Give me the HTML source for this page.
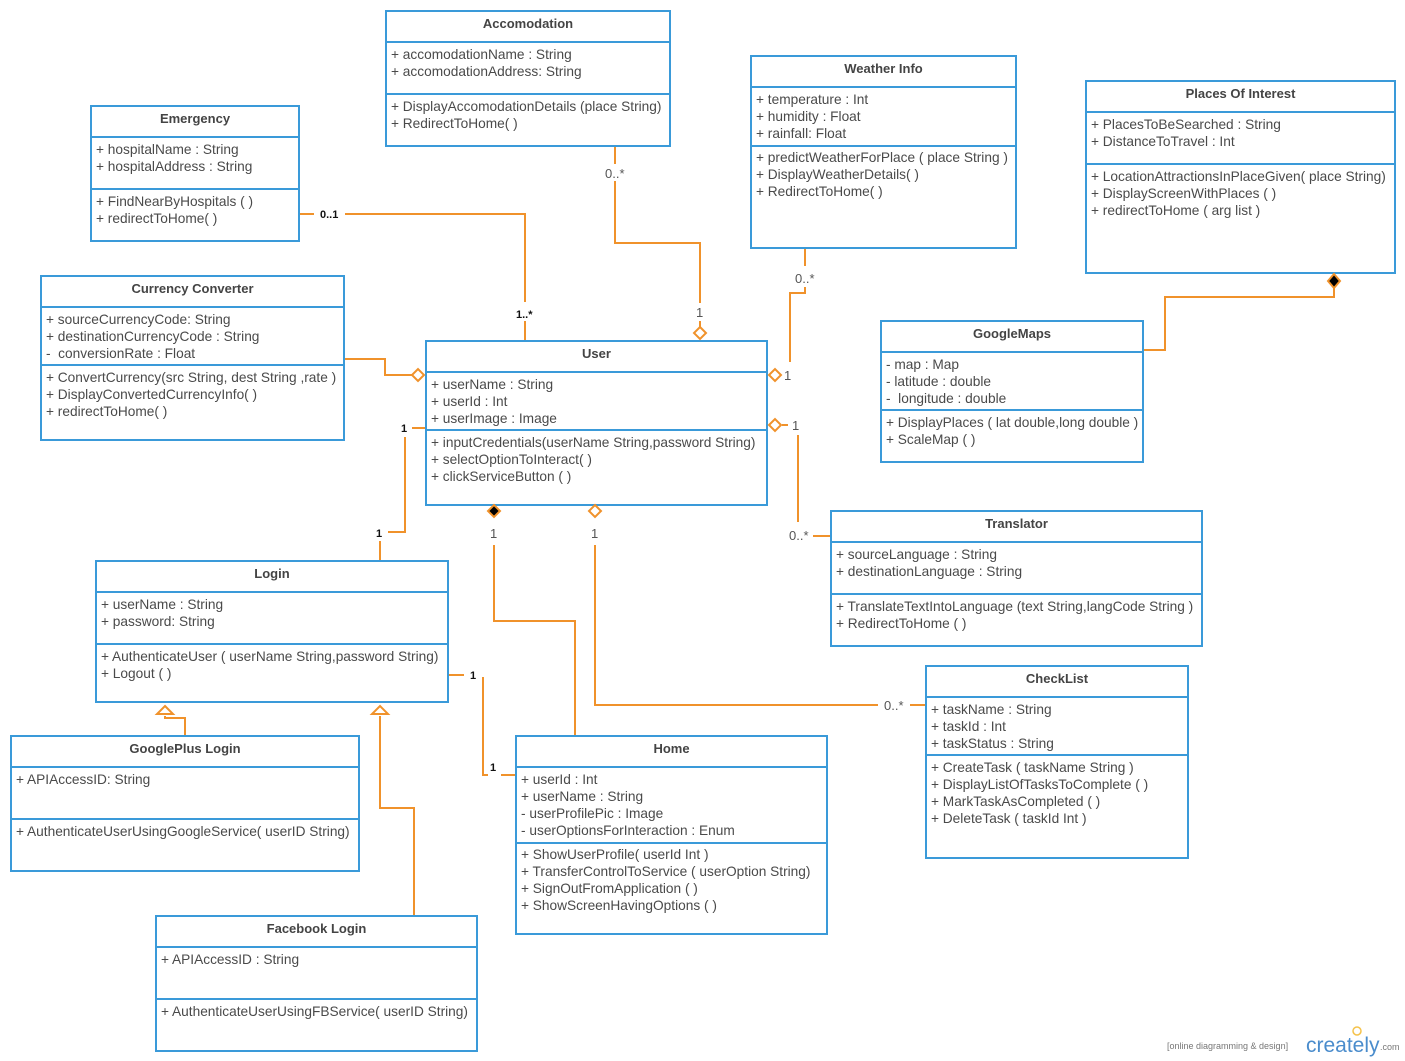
<!DOCTYPE html>
<html><head><meta charset="utf-8"><style>
body{margin:0;width:1405px;height:1061px;background:#fff;position:relative;overflow:hidden;font-family:"Liberation Sans",sans-serif;color:#4a4a4a}
.b{position:absolute;border:2px solid #3a9ad9;box-sizing:border-box;background:#fff}
.t{position:absolute;left:0;right:0;text-align:center;font-weight:bold;font-size:13px;color:#444}
.d{position:absolute;left:0;right:0;border-top:2px solid #3a9ad9}
.s{position:absolute;left:4px;font-size:13.7px;line-height:17px;white-space:nowrap}
svg{position:absolute;left:0;top:0}
.l{font-size:13px;fill:#555;font-family:"Liberation Sans",sans-serif}
.lb{font-size:11px;fill:#111;font-weight:bold;font-family:"Liberation Sans",sans-serif}
</style></head><body>

<div class="b" style="left:385px;top:10px;width:286px;height:137px"><div class="t" style="top:4px">Accomodation</div><div class="d" style="top:29px"></div><div class="s" style="top:34px">+ accomodationName : String<br>+ accomodationAddress: String</div><div class="d" style="top:81px"></div><div class="s" style="top:86px">+ DisplayAccomodationDetails (place String)<br>+ RedirectToHome( )</div></div>

<div class="b" style="left:90px;top:105px;width:210px;height:137px"><div class="t" style="top:4px">Emergency</div><div class="d" style="top:29px"></div><div class="s" style="top:34px">+ hospitalName : String<br>+ hospitalAddress : String</div><div class="d" style="top:81px"></div><div class="s" style="top:86px">+ FindNearByHospitals ( )<br>+ redirectToHome( )</div></div>

<div class="b" style="left:750px;top:55px;width:267px;height:194px"><div class="t" style="top:4px">Weather Info</div><div class="d" style="top:29px"></div><div class="s" style="top:34px">+ temperature : Int<br>+ humidity : Float<br>+ rainfall: Float</div><div class="d" style="top:88px"></div><div class="s" style="top:92px">+ predictWeatherForPlace ( place String )<br>+ DisplayWeatherDetails( )<br>+ RedirectToHome( )</div></div>

<div class="b" style="left:1085px;top:80px;width:311px;height:194px"><div class="t" style="top:4px">Places Of Interest</div><div class="d" style="top:29px"></div><div class="s" style="top:34px">+ PlacesToBeSearched : String<br>+ DistanceToTravel : Int</div><div class="d" style="top:81px"></div><div class="s" style="top:86px">+ LocationAttractionsInPlaceGiven( place String)<br>+ DisplayScreenWithPlaces ( )<br>+ redirectToHome ( arg list )</div></div>

<div class="b" style="left:40px;top:275px;width:305px;height:166px"><div class="t" style="top:4px">Currency Converter</div><div class="d" style="top:29px"></div><div class="s" style="top:34px">+ sourceCurrencyCode: String<br>+ destinationCurrencyCode : String<br>-&nbsp; conversionRate : Float</div><div class="d" style="top:87px"></div><div class="s" style="top:92px">+ ConvertCurrency(src String, dest String ,rate )<br>+ DisplayConvertedCurrencyInfo( )<br>+ redirectToHome( )</div></div>

<div class="b" style="left:425px;top:340px;width:343px;height:166px"><div class="t" style="top:4px">User</div><div class="d" style="top:29px"></div><div class="s" style="top:34px">+ userName : String<br>+ userId : Int<br>+ userImage : Image</div><div class="d" style="top:87px"></div><div class="s" style="top:92px">+ inputCredentials(userName String,password String)<br>+ selectOptionToInteract( )<br>+ clickServiceButton ( )</div></div>

<div class="b" style="left:880px;top:320px;width:264px;height:143px"><div class="t" style="top:4px">GoogleMaps</div><div class="d" style="top:29px"></div><div class="s" style="top:34px">- map : Map<br>- latitude : double<br>-&nbsp; longitude : double</div><div class="d" style="top:87px"></div><div class="s" style="top:92px">+ DisplayPlaces ( lat double,long double )<br>+ ScaleMap ( )</div></div>

<div class="b" style="left:830px;top:510px;width:373px;height:137px"><div class="t" style="top:4px">Translator</div><div class="d" style="top:29px"></div><div class="s" style="top:34px">+ sourceLanguage : String<br>+ destinationLanguage : String</div><div class="d" style="top:81px"></div><div class="s" style="top:86px">+ TranslateTextIntoLanguage (text String,langCode String )<br>+ RedirectToHome ( )</div></div>

<div class="b" style="left:95px;top:560px;width:354px;height:143px"><div class="t" style="top:4px">Login</div><div class="d" style="top:29px"></div><div class="s" style="top:34px">+ userName : String<br>+ password: String</div><div class="d" style="top:81px"></div><div class="s" style="top:86px">+ AuthenticateUser ( userName String,password String)<br>+ Logout ( )</div></div>

<div class="b" style="left:925px;top:665px;width:264px;height:194px"><div class="t" style="top:4px">CheckList</div><div class="d" style="top:29px"></div><div class="s" style="top:34px">+ taskName : String<br>+ taskId : Int<br>+ taskStatus : String</div><div class="d" style="top:87px"></div><div class="s" style="top:92px">+ CreateTask ( taskName String )<br>+ DisplayListOfTasksToComplete ( )<br>+ MarkTaskAsCompleted ( )<br>+ DeleteTask ( taskId Int )</div></div>

<div class="b" style="left:10px;top:735px;width:350px;height:137px"><div class="t" style="top:4px">GooglePlus Login</div><div class="d" style="top:29px"></div><div class="s" style="top:34px">+ APIAccessID: String</div><div class="d" style="top:81px"></div><div class="s" style="top:86px">+ AuthenticateUserUsingGoogleService( userID String)</div></div>

<div class="b" style="left:515px;top:735px;width:313px;height:200px"><div class="t" style="top:4px">Home</div><div class="d" style="top:29px"></div><div class="s" style="top:34px">+ userId : Int<br>+ userName : String<br>- userProfilePic : Image<br>- userOptionsForInteraction : Enum</div><div class="d" style="top:105px"></div><div class="s" style="top:109px">+ ShowUserProfile( userId Int )<br>+ TransferControlToService ( userOption String)<br>+ SignOutFromApplication ( )<br>+ ShowScreenHavingOptions ( )</div></div>

<div class="b" style="left:155px;top:915px;width:323px;height:137px"><div class="t" style="top:4px">Facebook Login</div><div class="d" style="top:29px"></div><div class="s" style="top:34px">+ APIAccessID : String</div><div class="d" style="top:81px"></div><div class="s" style="top:86px">+ AuthenticateUserUsingFBService( userID String)</div></div>

<svg width="1405" height="1061">
<g fill="none" stroke="#f0922b" stroke-width="2">
<polyline points="300,214 314,214"/><polyline points="345,214 525,214 525,302"/><polyline points="525,321 525,340"/>
<polyline points="615,147 615,164"/><polyline points="615,181 615,243 700,243 700,303"/><polyline points="700,321 700,327"/>
<polyline points="805,249 805,266"/><polyline points="805,287 805,293 790,293 790,362"/>
<polyline points="345,359 385,359 385,375 412,375"/>
<polyline points="425,428 412,428"/><polyline points="405,437 405,532 388,532"/><polyline points="380,541 380,560"/>
<polyline points="782,425 788,425"/><polyline points="798,435 798,522"/><polyline points="813,536 830,536"/>
<polyline points="494,545 494,621 575,621 575,735"/>
<polyline points="595,545 595,705 878,705"/><polyline points="910,705 925,705"/>
<polyline points="449,675 464,675"/><polyline points="483,677 483,775 488,775"/><polyline points="501,775 515,775"/>
<polyline points="1334,288 1334,297 1165,297 1165,350 1144,350"/>
<polyline points="185,735 185,718 165,718 165,716"/>
<polyline points="380,716 380,808 414,808 414,915"/>
<polygon points="700,327 706,333 700,339 694,333" fill="#fff"/>
<polygon points="412,375 418,369 424,375 418,381" fill="#fff"/>
<polygon points="769,375 775,369 781,375 775,381" fill="#fff"/>
<polygon points="769,425 775,419 781,425 775,431" fill="#fff"/>
<polygon points="595,505 601,511 595,517 589,511" fill="#fff"/>
<polygon points="494,505 500,511 494,517 488,511" fill="#000"/>
<polygon points="1334,274 1340,281 1334,288 1328,281" fill="#000"/>
<polygon points="165,706 173,714 157,714" fill="#fff"/>
<polygon points="380,706 388,714 372,714" fill="#fff"/>
</g>
<text class="lb" x="320" y="218">0..1</text>
<text class="lb" x="516" y="318">1..*</text>
<text class="l" x="605" y="178">0..*</text>
<text class="l" x="696" y="317">1</text>
<text class="l" x="795" y="283">0..*</text>
<text class="l" x="784" y="380">1</text>
<text class="lb" x="401" y="432">1</text>
<text class="lb" x="376" y="537">1</text>
<text class="l" x="792" y="430">1</text>
<text class="l" x="789" y="540">0..*</text>
<text class="l" x="490" y="538">1</text>
<text class="l" x="591" y="538">1</text>
<text class="l" x="884" y="710">0..*</text>
<text class="lb" x="470" y="679">1</text>
<text class="lb" x="490" y="771">1</text>
<text x="1167" y="1049" style="font-size:9px;fill:#777;font-family:'Liberation Sans',sans-serif">[online diagramming &amp; design]</text>
<text x="1306" y="1052" style="font-size:21px;fill:#4a8ccc;font-family:'Liberation Sans',sans-serif">creately</text>
<text x="1380" y="1050" style="font-size:9px;fill:#777;font-family:'Liberation Sans',sans-serif">.com</text>
<circle cx="1357" cy="1031" r="4" fill="none" stroke="#f5c24a" stroke-width="1.5"/>
</svg>
</body></html>
